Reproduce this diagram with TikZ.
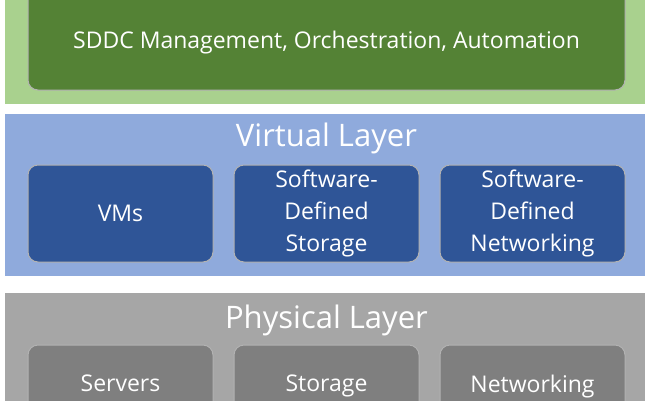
\documentclass[tikz,border=0pt]{standalone}
\usepackage{fontspec}
\setmainfont{Open Sans}
\definecolor{lgreen}{HTML}{A9D18E}
\definecolor{dgreen}{HTML}{548235}
\definecolor{lblue}{HTML}{8FAADC}
\definecolor{dblue}{HTML}{2F5597}
\definecolor{lgray}{HTML}{A6A6A6}
\definecolor{dgray}{HTML}{7F7F7F}
\begin{document}
\begin{tikzpicture}[x=1pt,y=-1pt,
  band/.style={draw=white,line width=1.5pt},
  inbox/.style={draw=white!70!black,line width=1pt,rounded corners=10pt,text=white,align=center,font=\fontsize{23}{32}\selectfont},
  title/.style={text=white,font=\fontsize{31}{34}\selectfont}]
\useasboundingbox (0,0) rectangle (650,400);
\clip (0,0) rectangle (650,400);
\fill[white] (0,0) rectangle (650,400);
% management
\draw[band,fill=lgreen] (4,-20) rectangle (646,105);
\node[inbox,fill=dgreen,minimum width=597pt,minimum height=110pt] (mgmt) at (326.5,35) {};
\node[text=white,font=\fontsize{23}{28}\selectfont] (mgmtt) at (326.5,43) {SDDC Management, Orchestration, Automation};
% virtual
\draw[band,fill=lblue] (4,113) rectangle (646,277);
\node[title] (vt) at (326.5,138) {Virtual Layer};
\node[inbox,fill=dblue,minimum width=185pt,minimum height=97pt] (vm) at (120.5,213.5) {VMs};
\node[inbox,fill=dblue,minimum width=185pt,minimum height=97pt] (sds) at (326.5,213.5) {Software-\\Defined\\Storage};
\node[inbox,fill=dblue,minimum width=185pt,minimum height=97pt] (sdn) at (532.5,213.5) {Software-\\Defined\\Networking};
% physical
\draw[band,fill=lgray] (4,292) rectangle (646,420);
\node[title] (pt) at (326.5,320) {Physical Layer};
\node[inbox,fill=dgray,minimum width=185pt,minimum height=97pt,text depth=20pt] (srv) at (120.5,393.5) {Servers};
\node[inbox,fill=dgray,minimum width=185pt,minimum height=97pt,text depth=20pt] (sto) at (326.5,393.5) {Storage};
\node[inbox,fill=dgray,minimum width=185pt,minimum height=97pt,text depth=20pt] (net) at (532.5,393.5) {Networking};
\end{tikzpicture}
\end{document}
